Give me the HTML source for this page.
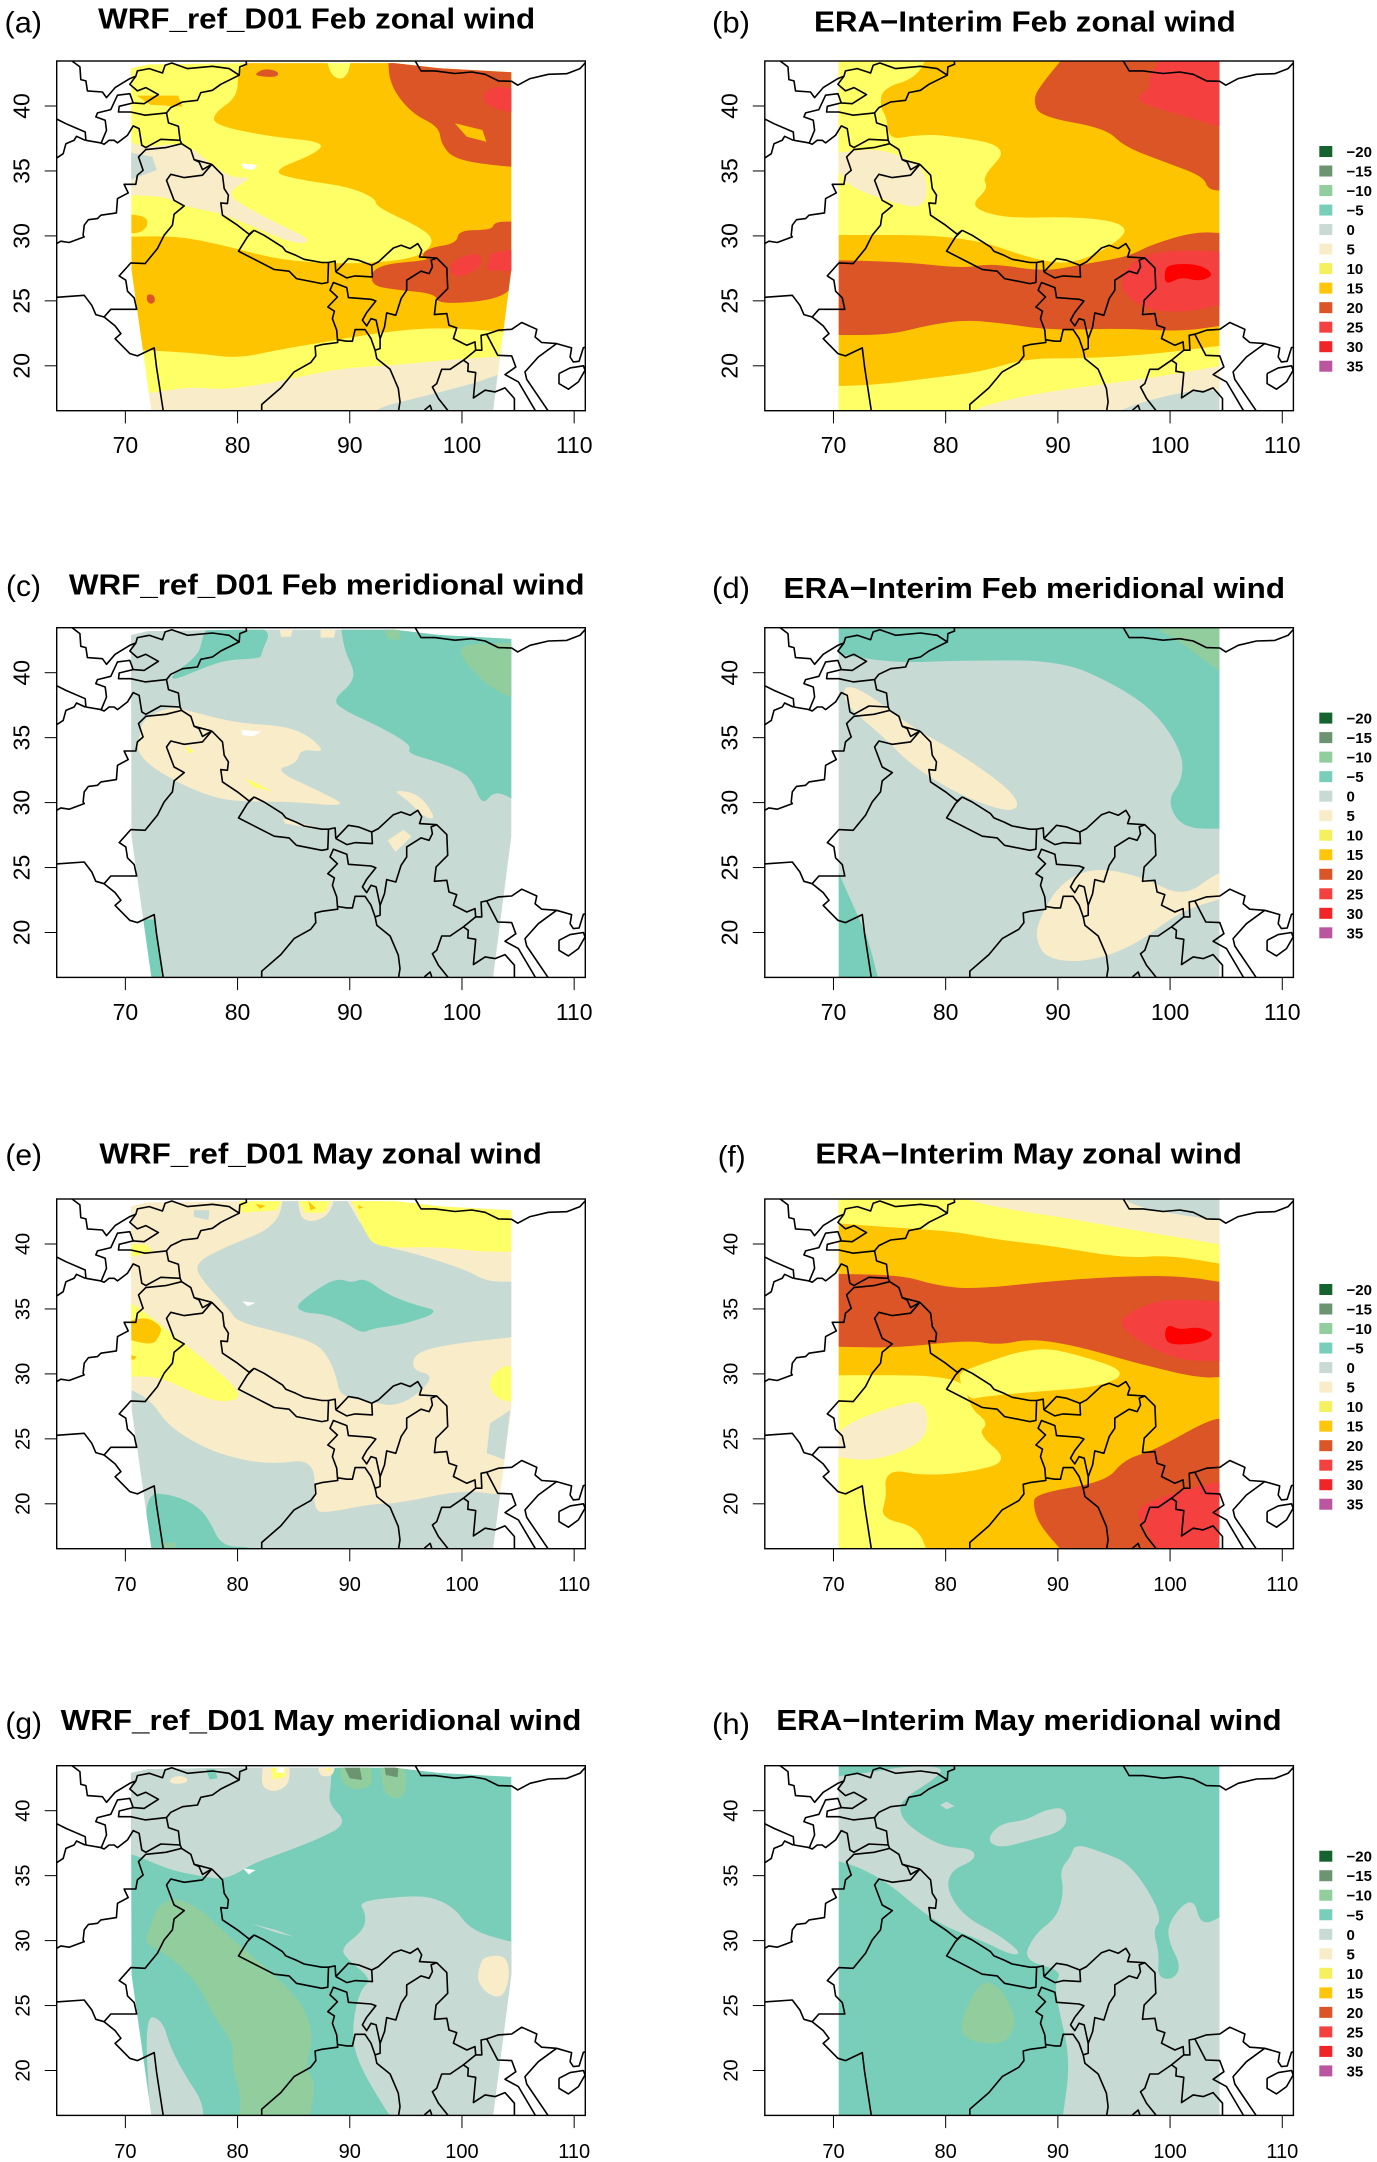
<!DOCTYPE html>
<html lang="en">
<head>
<meta charset="utf-8">
<title>WRF and ERA-Interim wind comparison</title>
<style>
html,body{margin:0;padding:0;background:#fff}
svg{display:block;font-family:"Liberation Sans",sans-serif}
.title{font-weight:bold;font-size:29px;fill:#000}
.letter{font-size:30px;fill:#000}
</style>
</head>
<body>
<svg id="figure" xmlns="http://www.w3.org/2000/svg" width="1377" height="2162" viewBox="0 0 1377 2162">
<rect width="1377" height="2162" fill="#fff"/>
<defs id="clip-defs"></defs>
<g id="panels"></g>
<g>
<text class="title" x="98.2" y="28.3" textLength="437" lengthAdjust="spacingAndGlyphs">WRF_ref_D01 Feb zonal wind</text>
<text class="title" x="814" y="31.7" textLength="421.8" lengthAdjust="spacingAndGlyphs">ERA−Interim Feb zonal wind</text>
<text class="title" x="68.9" y="594.3" textLength="515.7" lengthAdjust="spacingAndGlyphs">WRF_ref_D01 Feb meridional wind</text>
<text class="title" x="783.5" y="598" textLength="501.5" lengthAdjust="spacingAndGlyphs">ERA−Interim Feb meridional wind</text>
<text class="title" x="99.4" y="1163.3" textLength="442.5" lengthAdjust="spacingAndGlyphs">WRF_ref_D01 May zonal wind</text>
<text class="title" x="815.4" y="1163.3" textLength="426.6" lengthAdjust="spacingAndGlyphs">ERA−Interim May zonal wind</text>
<text class="title" x="60.7" y="1730" textLength="520.7" lengthAdjust="spacingAndGlyphs">WRF_ref_D01 May meridional wind</text>
<text class="title" x="776.3" y="1730" textLength="505.3" lengthAdjust="spacingAndGlyphs">ERA−Interim May meridional wind</text>
</g>
<g>
<text class="letter" x="4.5" y="32.3" textLength="37.5" lengthAdjust="spacingAndGlyphs">(a)</text>
<text class="letter" x="712" y="32.3" textLength="38" lengthAdjust="spacingAndGlyphs">(b)</text>
<text class="letter" x="6" y="596" textLength="35" lengthAdjust="spacingAndGlyphs">(c)</text>
<text class="letter" x="712" y="598" textLength="38" lengthAdjust="spacingAndGlyphs">(d)</text>
<text class="letter" x="5.4" y="1165" textLength="36.6" lengthAdjust="spacingAndGlyphs">(e)</text>
<text class="letter" x="717.7" y="1166.5" textLength="28" lengthAdjust="spacingAndGlyphs">(f)</text>
<text class="letter" x="5.4" y="1733" textLength="36.6" lengthAdjust="spacingAndGlyphs">(g)</text>
<text class="letter" x="712" y="1734" textLength="38" lengthAdjust="spacingAndGlyphs">(h)</text>
</g>
</svg>
<script>
// Axis tick values and legend levels
const lonTicks = [70, 80, 90, 100, 110];
const latTicks = [20, 25, 30, 35, 40];
const legendLevels = [-20, -15, -10, -5, 0, 5, 10, 15, 20, 25, 30, 35];

// Model domains (lon, lat)
const wrfDomain = [[70.5,42.9],[72,43.2],[80,43.3],[94,43.3],[98,42.9],[104.4,42.6],[104.4,27.4],[102.75,16.4],[72.35,16.4],[70.55,27.4]];
const eraDomain = [[70.47,44],[104.4,44],[104.4,16],[70.47,16]];

// Political boundaries (lon, lat)
const borderLines = [
[[65.26,43.6],[65.26,43.47],[65.97,43.01],[66.05,42.03],[66.5,41.93],[66.64,41.16],[67.97,41.08],[68.33,40.65],[69.09,41.42],[70.39,42.11],[70.92,42.29],[71.07,42.7],[72.11,42.88],[73.29,42.54],[73.52,43.14],[74.11,43.31],[75.5,42.88],[77.71,43.06],[79.19,42.88],[80.08,42.37],[80.14,43.01],[80.73,43.21],[80.67,43.7]],
[[80.08,42.37],[78.45,41.67],[77.71,41.21],[76.68,41.03],[76.39,40.44],[75.06,40.31],[74.02,39.88],[73.64,39.47]],
[[70.92,42.29],[70.39,41.67],[71.07,41.16],[71.81,41.42],[72.93,40.88],[71.66,40.18],[70.69,40.24],[70.39,40.95],[69.3,40.83],[68.71,39.72],[67.53,39.47],[67.38,39.16],[68.21,38.9],[68.33,38.13],[67.83,37.1]],
[[70.69,40.24],[69.45,39.98],[69.39,39.54],[70.48,39.54],[71.75,39.29],[73.64,39.47],[73.82,38.7],[74.7,38.44],[74.85,37.36],[74.98,37.1]],
[[63.5,39.2],[63.84,39.03],[64.73,38.64],[66.44,38],[66.5,37.36],[67.83,37.16],[68.12,37.05],[68.56,37.36],[69,37.36],[69.3,37.16],[70.19,37.75],[70.69,38.47],[71.22,38.26],[71.46,36.98],[71.81,36.8],[73.14,37.44],[74.85,37.36]],
[[63.5,35.8],[63.84,35.95],[64.49,36.33],[64.73,37.1],[65.46,37.36],[65.67,37.67],[66.44,37.36]],
[[74.98,37.1],[73.58,36.8],[71.81,36.64],[71.16,36.08],[71.57,35.05],[71.07,34.67],[70.92,33.97],[69.89,33.97],[70.25,33.31],[69.3,32.87],[69.21,31.77],[67.83,31.59],[67.53,31.33],[66.73,31.25],[66.35,30.82],[66.26,30.05],[66.35,29.92],[65.02,29.49],[64.28,29.59],[63.5,29.2]],
[[74.98,37.1],[75.8,36.64],[76.09,35.87],[77.66,35.51]],
[[76.09,35.87],[76.53,35.69],[76.83,35.1],[77.66,35.51]],
[[77.66,35.51],[76.83,34.67],[75.21,34.49],[74.02,34.74],[73.64,34.28],[74.32,32.74],[75.21,32.31],[74.32,31.67],[74.17,30.82],[73.43,30.05],[72.84,29.02],[71.75,27.87],[70.48,27.92],[69.45,26.92],[70.04,26.59],[70.19,25.74],[70.78,25.23],[71,24.35],[68.71,24.35],[68.12,23.76],[67.38,23.94],[67.03,24.66],[66.35,25.43],[63.5,25.25]],
[[68.12,23.76],[69.09,23.07],[69.6,22.48],[69.09,22.09],[70.39,20.94],[71.07,20.76],[72.55,21.38],[72.76,19.91],[73.45,16]],
[[77.66,35.51],[78.6,34.67],[78.75,33.64],[79.13,33.13],[79.04,32.49],[78.45,32.54],[78.6,31.59],[79.93,30.82],[80.96,30.12],[81.4,30.43]],
[[81.4,30.43],[82.29,30.05],[83.91,29.15],[84.21,28.82],[85.1,28.51],[85.83,28.2],[87.4,27.95],[87.99,27.95],[87.93,26.41],[87.4,26.33],[85.15,26.71],[84.5,27.28],[83.18,27.41],[80.02,28.82],[80.81,29.92],[81.4,30.43]],
[[87.99,27.95],[88.58,28.05],[88.64,27.23]],
[[88.64,27.23],[89.76,28.25],[90.64,28.13],[91.82,27.74],[91.88,26.84],[90.35,26.92],[89.61,26.77],[88.64,27.23]],
[[91.82,27.74],[92.41,28],[93.74,29.07],[94.42,29.28],[95.22,29.02],[95.9,29.41],[96.25,28.9],[96.05,28.38],[97.58,28.3],[98.47,27.54],[98.55,25.94],[97.52,25.05],[97.37,23.94],[98.47,24.02],[98.67,23.12],[99.35,22.92],[99.06,22.1],[100.24,21.58],[100.97,21.84],[101.03,21.2],[99.94,20.43],[98.76,19.73],[98.02,19.73],[97.58,18.63],[97.2,18.37],[97.73,17.48],[98.55,16.58],[99,16]],
[[97.58,28.3],[97.08,28.13],[97.2,27.61],[96.9,27.1],[96.19,27.28],[94.92,26.59],[94.92,25.82],[94.42,25.17],[93.95,23.89],[93.15,24.07],[92.95,22.99],[92.56,22.09],[92.21,23.51],[91.76,23.63],[91.38,23.07],[91,23.51],[91.38,24.1],[92.18,24.99],[91.76,25.12],[89.76,25.25],[89.61,26.02],[88.43,26.41],[88.13,25.82],[88.78,25.3],[87.93,24.53],[88.52,24.2],[88.34,23.63],[88.72,22.74],[88.81,21.79],[87.4,21.63],[86.81,21.5],[86.87,20.76],[86.42,20.25],[84.95,19.53],[83.77,18.3],[82.08,17.02],[82.08,16]],
[[88.81,22],[89.61,21.89],[90.11,21.89],[90.35,22.79],[91.23,22.79],[91.76,22.1],[92.12,21.2],[92.56,21.33],[92.56,22.09]],
[[92.12,21.2],[92.27,20.56],[93.45,19.73],[94.18,18.25],[94.33,17.22],[94.1,16]],
[[101.03,21.2],[101.57,21.2],[101.51,22.35],[102.01,22.43],[103.04,22.74],[104.22,22.81],[105.11,23.33],[106.44,22.81],[106.29,22.22],[106.88,21.79],[108.2,21.71],[109.53,21.38],[109.39,20.68],[109.68,20.3],[110.19,20.35],[110.57,21.4],[110.86,21.45],[111.5,21.5]],
[[102.01,22.43],[102.98,20.81],[104.22,20.76],[104.58,19.91],[103.63,19.32],[104.81,18.76],[106.29,16.58],[106.7,16]],
[[108.2,21.71],[106.58,20.68],[105.4,19.53],[105.55,18.96],[107.41,16.58],[107.8,16]],
[[99.94,20.43],[100.38,20.17],[100.33,19.58],[101.03,19.48],[100.83,17.53],[101.86,18.12],[102.75,17.99],[103.63,18.3],[104.46,17.48],[104.46,16]],
[[108.41,19.4],[109.39,19.84],[110.57,20],[110.72,19.66],[110.13,18.76],[109.24,18.2],[108.41,18.63],[108.41,19.4]],
[[96.49,16.58],[96.99,16.96],[97.14,16.58]],
[[95.51,43.7],[96.19,42.7],[97.43,42.7],[99.2,42.5],[100.68,42.62],[101.86,42.44],[103.04,41.93],[104.22,41.9],[104.75,41.6],[105.85,42.11],[107.47,42.44],[109.09,42.49],[110.27,42.88],[110.72,43.31],[111.5,43.8]]
];

// Filled wind-speed regions: [level (m/s, null = no data), outline in lon/lat], painted in order
const panelA = [
[15,[[70,29.94],[74.72,29.99],[78.59,29.3],[81.41,28.66],[84.23,28.14],[88.1,27.89],[92.15,27.89],[96.37,28.4],[97.61,29.68],[96.2,30.71],[92.32,32.25],[92.32,32.89],[89.86,33.79],[85.63,34.3],[82.82,34.94],[87.04,36.36],[87.75,37.25],[82.82,37.64],[77.89,38.54],[77.89,39.44],[80,40.72],[80,42.64],[81.41,44],[87.8,44],[88.3,42.4],[89.2,42],[89.9,42.5],[90.2,44],[105,44],[105,22.5],[100.07,22.88],[96.2,22.88],[92.32,22.5],[88.8,21.99],[83.52,21.22],[80,20.57],[76.48,20.96],[71.55,21.22],[70,21.22]]],
[15,[[70,31.7],[71.9,31.5],[72,30.7],[71.2,30.2],[70,30.2]]],
[15,[[71,40.8],[74.7,40.8],[75.1,39.95],[72.25,40.1]]],
[20,[[93.4,44],[93.56,41.6],[95.5,39.44],[97.96,38.4],[98.13,37.1],[99.37,35.84],[103.94,35.33],[105,35.33],[105,44],[96.2,44],[96.2,43]]],
[15,[[99.37,38.67],[101.83,38.15],[102.18,37.25],[100.42,37.64]]],
[20,[[105,31.1],[102.89,31.1],[102.7,30.45],[99.7,30.45],[99.54,29.43],[96.9,29.04],[96.37,28.4],[97.25,28.14],[92.15,27.76],[91.8,26.22],[94.08,25.84],[97.6,25.58],[97.96,24.68],[104.12,25.2],[105,27.37]]],
[25,[[101.65,40.72],[102.89,41.62],[105,41.23],[105,39.44],[102.54,39.82]]],
[25,[[98.84,27.37],[99.19,28.14],[101.65,28.79],[101.83,27.63],[99.72,26.73]]],
[25,[[102.18,27.37],[102.54,28.66],[105,29.04],[105,27.25]]],
[20,[[71.9,25.5],[72.5,25.5],[72.7,25],[72.3,24.7],[71.9,25]]],
[20,[[81.58,42.5],[82.46,42.9],[83.7,42.64],[83.5,42.2],[81.76,42.3]]],
[5,[[70,37.5],[71.55,36.74],[75.25,37.25],[77.9,35.33],[79.65,34.43],[81.4,34.56],[78.94,33.28],[80.7,32.25],[83.5,30.97],[86.7,29.68],[85.28,29.3],[81.4,30.7],[78.6,31.74],[75.4,32.25],[73.66,33.02],[70,33.15]]],
[0,[[70,36.48],[72.4,36.1],[72.8,35.07],[70,34.17]]],
[5,[[70,17.9],[72.25,17.88],[75.77,18.4],[78.6,18.14],[82.8,18.65],[85.6,19.16],[89.15,19.8],[94.08,20.06],[100.07,20.57],[105,20.75],[105,16],[70,16]]],
[0,[[92.32,16.73],[95.85,17.5],[101.13,18.65],[103.06,19.3],[105,19.68],[105,16],[92.3,16]]],
[null,[[80.35,35.59],[81.76,35.46],[81.4,35.07],[80.53,35.2]]]
];
const panelB = [
[10,[[70,44],[78.5,44],[77.31,42.13],[74.35,41.36],[74.15,39.95],[74.74,39.18],[74.94,37.38],[77.31,37.77],[80.08,37.77],[85.81,36.87],[83.24,34.56],[83.83,33.66],[82.06,32.25],[85.22,31.35],[91.15,31.48],[95.49,31.1],[96.28,30.07],[91.94,27.89],[88.38,28.02],[81.66,30.07],[70,30.07]]],
[5,[[70,36.36],[73.75,36.74],[76.13,36.1],[78.3,35.07],[78.3,32],[74.94,32.64],[71.38,33.79],[70.47,35.07],[70,35.07]]],
[20,[[70,28.14],[76.13,28],[81.66,27.5],[84.03,27.89],[88.77,27.25],[91.94,27.76],[96.28,28.4],[98.26,29.3],[102.2,30.33],[105,30.2],[105,23.14],[101,22.63],[95.9,22.88],[89.17,22.75],[85.2,23.27],[81.66,23.53],[78.5,23.14],[74.94,22.37],[70,22.37]]],
[20,[[90.75,44],[88.38,41.5],[87.8,40.46],[88.38,39.18],[94.3,38.28],[95.9,36.87],[99.84,35.59],[103,34.56],[103.4,33.53],[105,33.48],[105,44]]],
[25,[[99.45,44],[98.06,42.13],[98.26,41.36],[96.68,40.46],[99.84,39.56],[105,38.28],[105,44]]],
[25,[[95.3,26.09],[96.68,28.27],[99.84,28.91],[105,28.79],[105,24.81],[101.03,24.04],[97.47,24.42]]],
[30,[[99.45,27.12],[99.84,27.84],[102.6,27.84],[104,27],[102.6,26.48],[101.03,26.86],[99.64,26.22]]],
[10,[[70,18.44],[73.75,18.52],[78.5,19.04],[83.24,19.55],[87.19,20.57],[91.94,20.57],[97.87,20.83],[105,21.6],[105,16],[70,16]]],
[5,[[82.45,16.73],[87.98,17.88],[95.9,18.78],[99.84,19.3],[105,20.06],[105,16],[82.45,16]]],
[0,[[95.3,16.54],[98.66,17.5],[103,18.27],[105,17.88],[105,16],[95.3,16]]]
];
const panelC = [
[-5,[[89.15,44],[89.5,41.75],[90.4,40.2],[90.2,39.18],[88.45,37.9],[89.5,37.1],[92.68,35.84],[95.5,34.43],[95.14,33.8],[97.25,33.28],[99,32.76],[100.8,32],[101.8,29.7],[102.9,30.97],[105,30.07],[105,44]]],
[-10,[[99.54,41.75],[100.8,42.26],[105,42.26],[105,37.9],[102.9,38.67],[101.13,39.95]]],
[-10,[[93,43.6],[94.6,43.6],[94.4,42.5],[93.4,42.64]]],
[-5,[[77.2,43.6],[83.17,43.6],[82.1,41.5],[82.1,41.1],[79,41],[76.83,40.33],[74.37,39.44],[74,39.7],[76.5,41.36],[76.83,42.5]]],
[5,[[71,34.05],[72.25,32.76],[75.4,31.2],[78.6,30.2],[81.4,30.07],[84.93,30.07],[89.86,29.68],[87.75,30.7],[83.17,32.5],[85.28,33],[85.63,34.17],[88.1,33.8],[85.28,35.84],[80,36.1],[75.4,37.13],[74,37.38],[71.55,36.5],[71.2,34.82]]],
[5,[[93.73,31],[96.2,30.7],[97.78,28.66],[96.55,28.9],[95.14,30.2]]],
[5,[[93.38,27.1],[94.8,27.9],[95.5,27.4],[94.08,26.2]]],
[5,[[84.05,28.8],[87.4,28],[86.7,28],[84.2,28.4]]],
[5,[[83.7,43.6],[85,43.6],[84.75,42.77],[83.87,42.77]]],
[5,[[87.4,43.6],[88.8,43.6],[88.6,42.7],[87.4,42.7]]],
[10,[[80.7,31.87],[81.4,31.6],[83.17,30.84],[81.4,31.2]]],
[10,[[75.4,34.43],[76.13,33.9],[75.6,33.8]]],
[null,[[80.35,35.6],[82.1,35.46],[81.4,35.1],[80.42,35.2]]],
[-5,[[71,21],[72.6,21],[73.35,16],[72,16]]]
];
const panelD = [
[-5,[[70,41.5],[75.5,40.74],[81.6,40.95],[90.2,40.95],[95,39.15],[98.7,37],[101.1,33.85],[101.1,31.73],[99.7,30.14],[101.1,28],[105,28],[105,45],[70,45]]],
[-10,[[98.7,44],[98.7,43.4],[101.1,42.3],[104.2,40.2],[105,40],[105,44]]],
[5,[[70.9,39.15],[73.1,38.4],[76.8,35.9],[81.6,33.6],[86.5,30.5],[86.2,29.1],[81.6,30.4],[77,32.8],[74.3,35.2],[71,37.56]]],
[5,[[88.35,21.1],[90.2,23.8],[93.2,25.05],[97.5,24.3],[101.16,22.7],[104.2,24.6],[105,24.6],[105,22.7],[100.9,21.65],[96.9,19],[92.6,17.7],[89,17.95],[88,19.5]]],
[-5,[[70,25.5],[71.9,21.8],[73.1,19.5],[74.1,16],[70,16]]]
];
const panelE = [
[0,[[76.13,38.5],[78.94,39.8],[83.5,41.33],[84.2,44],[85.3,44],[85.63,41.6],[88.1,42],[88.8,44],[89.33,44],[92,40],[95.85,39.28],[100.4,38],[102.2,37.1],[105,37.1],[105,32.87],[99.37,32.35],[95.85,31.7],[95.5,30.3],[97.5,29.9],[96.2,28.5],[94.08,27.48],[92,27.86],[89.15,28.25],[88.8,29.8],[88.1,31.3],[87,32.35],[84.2,33.12],[80,34],[79.3,34.9],[76.83,37.2]]],
[-5,[[85.1,35.18],[86.7,36.3],[88.8,37.4],[90.2,37],[91.3,37.4],[93.38,36.1],[95.85,35.3],[98.13,34.8],[94.8,33.8],[92,33.5],[91.1,33.1],[89.5,34],[87.75,34.6],[86,34.7]]],
[0,[[70,29],[72.25,28],[73.66,26.2],[75.77,24.9],[78.6,23.75],[82.8,23],[87,23.5],[86.7,19.5],[88,19.3],[92,20],[94.08,20],[100.07,21.06],[103.25,20.7],[105,20.7],[105,16],[70,16]]],
[10,[[70,35.7],[71.55,34.9],[74.4,32.87],[77.5,30.8],[80.7,28.25],[78.6,27.76],[76.1,28.5],[73,29.8],[70,29.8]]],
[15,[[70,34],[71.9,34.4],[73.3,33.64],[73,32.87],[72.4,32.2],[70,32.7]]],
[15,[[70,31.5],[71,31.35],[70.8,31.1],[70,31.1]]],
[10,[[89.86,44],[91.27,41.08],[92.3,39.67],[97.6,39.8],[101.83,39.4],[105,39.4],[105,44]]],
[10,[[80,44],[84.2,44],[83.5,42.6],[80.35,42.4]]],
[10,[[85.1,44],[88.6,44],[87.75,42.4],[86,42.4]]],
[15,[[81.6,43.1],[82.5,42.95],[82,42.7]]],
[15,[[86.3,43.3],[87,42.75],[86.5,42.6]]],
[15,[[90.74,43],[91.2,42.8],[90.8,42.7]]],
[10,[[104.6,31],[102.7,30],[102.4,29],[103.25,28],[105,27.76]]],
[0,[[76.1,42.6],[77.5,42.6],[77.4,41.85],[76.1,42.1]]],
[0,[[102.5,26.2],[104.3,27.2],[103.77,23.4],[102.2,23.9]]],
[10,[[70,40],[71.9,39.95],[72.4,39.4],[70,38.9]]],
[-5,[[71.7,20.9],[74.4,20.66],[76.5,19.78],[77.5,18.7],[78.6,16.7],[81.4,16.7],[81.4,16],[72.1,16]]],
[-10,[[73.5,17],[74.54,17],[74.4,16.5],[73.5,16.5]]],
[null,[[80.42,35.6],[81.6,35.47],[80.9,35.2]]]
];
const panelF = [
[10,[[70,41.6],[76.5,41.2],[80.87,40.95],[84.8,40.3],[89.17,39.9],[95.9,38.9],[99.84,39.15],[105,38.4],[105,44],[70,44]]],
[5,[[81.66,43.4],[86,42.6],[90.75,42],[95.9,41.2],[105,39.9],[105,44],[81.66,44]]],
[0,[[95.7,43.5],[97.47,42.75],[102.6,42],[105,41.85],[105,44],[95.7,44]]],
[20,[[70,37.7],[76.13,37.6],[78.9,36.85],[82.45,36.5],[90,37.2],[97.1,37.56],[101.4,37.5],[105,37],[105,29.8],[102.6,29.66],[97.1,30.8],[91.94,32.1],[87.6,32.74],[84.8,32.2],[82.06,32.6],[75.7,32],[70,32.1]]],
[25,[[95.3,33.9],[96.68,34.9],[99.45,35.8],[105,35.56],[105,31],[101,31],[97.47,32.35]]],
[30,[[99.45,33.1],[99.84,33.84],[100.8,33.38],[102.6,33.64],[104.1,33],[102.6,32.35],[99.84,32.2]]],
[10,[[82.06,30.43],[88,32.15],[91.94,31.45],[96.28,30.17],[93.9,29],[88,28.64],[83.24,28.25],[82.06,28],[81,29.9]]],
[10,[[70,29.9],[81.27,29.9],[82.06,28],[82.45,27.2],[83.83,26.2],[82.85,25.4],[85.8,23.25],[81.66,22.35],[77.7,22.2],[75.53,22.6],[74.55,22],[74.74,20.55],[74.15,18.9],[77.5,18.24],[78.5,16],[70,16]]],
[5,[[70,25],[71.2,26.2],[75.3,27.5],[78.1,28],[78.5,25.7],[77.3,24.4],[73.36,23.24],[70,23.64]]],
[20,[[87.8,19.8],[88,20.8],[94.3,21.7],[95.9,23.4],[98.66,24.15],[103.4,26.45],[105,26.6],[105,16],[90.75,16],[88.4,18.3]]],
[25,[[96.68,19.5],[99.84,20.8],[105,21.83],[105,16],[98.85,16],[97.87,18.24]]]
];
const panelG = [
[0,[[70,44],[88.45,44],[88.3,41.85],[88.1,40.56],[89.86,39],[87,37.74],[83.5,36.6],[81.4,35.95],[78.94,34.66],[76.5,35],[74,35.43],[70.85,36.6],[70,36.7]]],
[-5,[[77.2,43.2],[78,43.2],[78.2,42.5],[77.5,42.4]]],
[5,[[73.84,42.36],[74.72,42.75],[75.6,42.5],[75.4,42.1],[74.2,42.05]]],
[5,[[82.1,42.1],[82.3,44],[84.6,44],[84.68,42.1],[83.5,41.46],[82.6,41.6]]],
[10,[[82.9,44],[84.4,44],[84.2,42.6],[83.17,42.4]]],
[null,[[83.5,43.4],[84.2,43.4],[84.15,42.93],[83.5,42.93]]],
[5,[[87.2,44],[88.7,44],[88.6,42.75],[87.75,42.6],[87.2,42.87]]],
[10,[[87.45,44],[88.4,44],[88.1,42.93]]],
[-10,[[89.15,44],[91.8,44],[92.15,41.85],[90.2,41.54],[89.15,42.36]]],
[-15,[[89.15,44],[90.74,44],[91.1,42.36],[90,42.5]]],
[-10,[[92.68,44],[94.8,44],[95.15,41.6],[94.26,40.8],[93,41.3]]],
[-15,[[93,44],[94.4,44],[94.26,42.57],[93.2,42.75]]],
[0,[[89.15,29.4],[91.27,30.8],[91.44,32.1],[90.74,33],[94.6,33.4],[97.25,33.4],[99.37,32.5],[100.8,30.8],[104.3,29.9],[105,29.9],[105,16],[94.08,16],[93.38,16.7],[90.56,20.8],[90.2,23.4],[90.9,26.2],[92,27],[89.86,28.5]]],
[5,[[102,28.76],[103.94,28.9],[104.3,27.2],[103.6,25.55],[102.2,25.9],[101.3,27],[101.65,28.25]]],
[-10,[[72.8,32.6],[74.37,33.4],[76.83,32.35],[78.6,30.8],[82.1,28.25],[85,25.94],[86.34,24.14],[86.7,22.1],[86,20.3],[87,19],[86.3,16],[80,16],[80.35,18],[79.47,20.3],[79.65,22.1],[77.9,24.14],[76.48,26.7],[73.66,29],[71.7,29.8],[72.1,30.8]]],
[0,[[71.7,24.27],[73.3,23.9],[74,21.8],[75.4,19.5],[76.83,17.7],[77,16],[72.25,16]]],
[0,[[81.23,31.3],[83.5,30.8],[85,30.3],[83.5,30.6]]],
[null,[[80.5,35.56],[81.6,35.43],[81,35.1]]]
];
const panelH = [
[0,[[70,42.6],[73.75,43],[76.13,43.4],[80,43.4],[78.9,42.36],[76.9,41.33],[75.73,40.3],[76.5,38.9],[79.7,37.2],[82.45,37.1],[82.65,36.2],[80.47,35.43],[80.08,33.9],[81.66,31.84],[84.8,30.43],[86.8,29],[85.8,28.9],[83.24,30],[80.08,31],[77.7,32.35],[74.94,34.4],[72.17,35.7],[70,36.2]]],
[0,[[91.54,37.5],[94.3,36.7],[96.28,35.95],[98.26,33.64],[99.25,31.6],[98.46,30.8],[99.05,29],[98.85,27.2],[100.24,26.96],[101,28],[99.84,30],[99.84,31.3],[101.2,32.87],[102.2,33],[102.6,31.6],[103.4,31.3],[105,32.1],[105,16],[90.36,16],[91.15,20.8],[89.96,25.16],[89.76,26.7],[90.36,27.7],[86.8,28.5],[88,30.56],[89.96,31.84],[90.55,33.9],[90.16,35.43],[91.15,36.46]]],
[0,[[83.64,37.74],[84.8,39],[87.2,39.28],[88.77,40.05],[90.75,40.3],[90.75,38.5],[87.6,37.74],[84.8,37.1]]],
[0,[[79.5,40.44],[80.08,40.7],[80.8,40.36],[80.08,40.1]]],
[-10,[[83.24,27],[84.82,26.45],[86,24.65],[86.2,23.37],[85.4,22.2],[83.64,22],[81.26,22.6],[81.66,24.65]]]
];

// Level colours
const mapColors = {'-20':'#17632f','-15':'#6d9470','-10':'#91cd9d','-5':'#78ceb9','0':'#c7dad3','5':'#f9ecc9','10':'#ffff66','15':'#ffc400','20':'#dc5526','25':'#f54040','30':'#fe0000','35':'#b9569f'};
const legendColors = {'-20':'#17632f','-15':'#6d9470','-10':'#91cd9d','-5':'#78ceb9','0':'#c7dad3','5':'#f9ecc9','10':'#f4f05f','15':'#ffc60a','20':'#dc5526','25':'#f54040','30':'#f32428','35':'#b9569f'};

// Layout
const colLeft = [56.7, 764.8];
const rowLat40 = [106, 672.7, 1244, 1810.7];
const rowTickFont = [23, 23, 20, 20];
const legendTop = [146, 712.6, 1284, 1850.7];
const legendStep = 19.52;
const plotWidth = 528.6;
const plotHeight = 349.7;
const lonMin = 63.88;
const pxPerLon = 11.22;
const pxPerLat = 12.99;
const NS = 'http://www.w3.org/2000/svg';

function xScale(lon, col) { return colLeft[col] + (lon - lonMin) * pxPerLon; }
function yScale(lat, row) { return rowLat40[row] + (40 - lat) * pxPerLat; }
function borderX(lon, col) { return xScale(70 + (lon - 70) * 1.0062, col); }
function ptsStr(points, col, row, xf) {
  return points.map(function (p) { return xf(p[0], col).toFixed(1) + ',' + yScale(p[1], row).toFixed(1); }).join(' ');
}
// Vertices lying outside the model domain stay sharp; contour vertices inside are rounded
function isExtent(p) { return p[0] >= 104.9 || p[0] <= 70.01 || p[1] >= 43.9 || p[1] <= 16.1; }
function regionPath(points, col, row) {
  const n = points.length;
  const px = points.map(function (p) { return [xScale(p[0], col), yScale(p[1], row)]; });
  if (n < 5) {
    return 'M' + px.map(function (q) { return q[0].toFixed(1) + ' ' + q[1].toFixed(1); }).join('L') + 'Z';
  }
  function mid(a, b) { return ((a[0] + b[0]) / 2).toFixed(1) + ' ' + ((a[1] + b[1]) / 2).toFixed(1); }
  let d = 'M' + mid(px[n - 1], px[0]);
  for (let i = 0; i < n; i++) {
    const next = px[(i + 1) % n];
    const v = px[i][0].toFixed(1) + ' ' + px[i][1].toFixed(1);
    d += isExtent(points[i]) ? 'L' + v + 'L' + mid(px[i], next) : 'Q' + v + ' ' + mid(px[i], next);
  }
  return d + 'Z';
}
function make(tag, attrs, parent) {
  const el = document.createElementNS(NS, tag);
  for (const k in attrs) el.setAttribute(k, attrs[k]);
  parent.appendChild(el);
  return el;
}

const panelConfigs = [
  {id: 'a', layers: panelA, base: 10, domain: wrfDomain, col: 0, row: 0},
  {id: 'b', layers: panelB, base: 15, domain: eraDomain, col: 1, row: 0},
  {id: 'c', layers: panelC, base: 0, domain: wrfDomain, col: 0, row: 1},
  {id: 'd', layers: panelD, base: 0, domain: eraDomain, col: 1, row: 1},
  {id: 'e', layers: panelE, base: 5, domain: wrfDomain, col: 0, row: 2},
  {id: 'f', layers: panelF, base: 15, domain: eraDomain, col: 1, row: 2},
  {id: 'g', layers: panelG, base: -5, domain: wrfDomain, col: 0, row: 3},
  {id: 'h', layers: panelH, base: -5, domain: eraDomain, col: 1, row: 3}
];

const defs = document.getElementById('clip-defs');
const root = document.getElementById('panels');

panelConfigs.forEach(function (cfg) {
  const col = cfg.col, row = cfg.row;
  const left = colLeft[col], top = yScale(43.464, row), bottom = top + plotHeight;

  const plotClip = make('clipPath', {id: 'plot-clip-' + cfg.id}, defs);
  make('rect', {x: left, y: top, width: plotWidth, height: plotHeight}, plotClip);
  const domainClip = make('clipPath', {id: 'domain-clip-' + cfg.id}, defs);
  make('polygon', {points: ptsStr(cfg.domain, col, row, xScale)}, domainClip);

  const panel = make('g', {}, root);
  
  

  const clipOuter = make('g', {'clip-path': 'url(#plot-clip-' + cfg.id + ')'}, panel);
  
  

  const field = make('g', {'clip-path': 'url(#domain-clip-' + cfg.id + ')'}, clipOuter);
  
  

  const baseRect = make('rect', {x: left, y: top, width: plotWidth, height: plotHeight, fill: mapColors[cfg.base]}, field);
  
  

  cfg.layers.forEach(function (layer) {
    const region = make('path', {
      d: regionPath(layer[1], col, row),
      fill: layer[0] === null ? '#ffffff' : mapColors[layer[0]]
    }, field);
    
    
  });

  const borders = make('g', {fill: 'none', stroke: '#000', 'stroke-width': 1.6, 'stroke-linejoin': 'round'}, clipOuter);
  
  
  borderLines.forEach(function (line) {
    const pl = make('polyline', {points: ptsStr(line, col, row, borderX)}, borders);
    
    
  });

  const box = make('rect', {x: left, y: top, width: plotWidth, height: plotHeight, fill: 'none', stroke: '#000', 'stroke-width': 1.4}, panel);
  
  

  const fs = rowTickFont[row];
  lonTicks.forEach(function (v) {
    const px = xScale(v, col);
    const t = make('line', {x1: px, x2: px, y1: bottom, y2: bottom + 12.7, stroke: '#000', 'stroke-width': 1}, panel);
    
    
    const lab = make('text', {x: px, y: bottom + 42.5, 'text-anchor': 'middle', 'font-size': fs, fill: '#000'}, panel);
    
    
    lab.textContent = v;
  });
  latTicks.forEach(function (v) {
    const py = yScale(v, row);
    const t = make('line', {x1: left - 12, x2: left, y1: py, y2: py, stroke: '#000', 'stroke-width': 1}, panel);
    
    
    const lab = make('text', {transform: 'translate(' + (left - 27.2) + ',' + py + ') rotate(-90)', 'text-anchor': 'middle', 'font-size': fs, fill: '#000'}, panel);
    
    
    lab.textContent = v;
  });

  if (col === 1) {
    const legend = make('g', {}, panel);
    
    
    legendLevels.forEach(function (lv, i) {
      const y0 = legendTop[row] + i * legendStep;
      const sw = make('rect', {x: 1319.3, y: y0, width: 13, height: 11, fill: legendColors[lv]}, legend);
      
      
      const tx = make('text', {x: 1346.5, y: y0 + 11, 'font-size': 15, 'font-weight': 'bold', fill: '#000'}, legend);
      
      
      tx.textContent = String(lv).replace('-', '\u2212');
    });
  }
});
</script>
</body>
</html>
